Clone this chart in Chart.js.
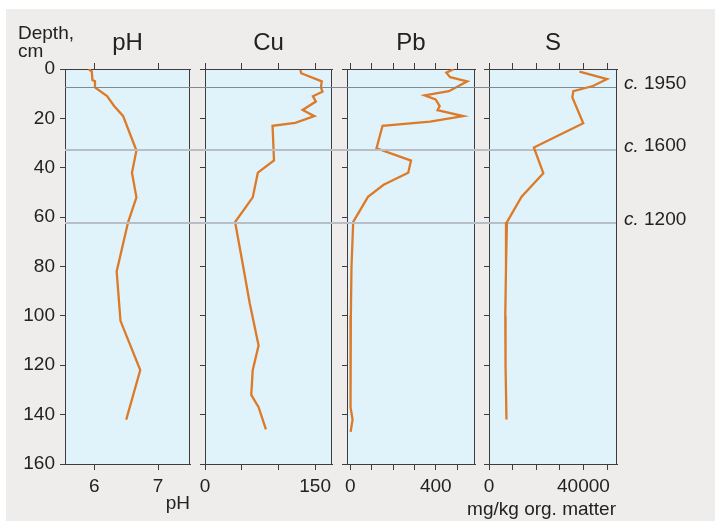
<!DOCTYPE html>
<html>
<head>
<meta charset="utf-8">
<title>Soil profile</title>
<script src="https://cdn.jsdelivr.net/npm/chart.js@4.4.1/dist/chart.umd.min.js"></script>
<style>
  html, body { margin: 0; padding: 0; background: #fff; }
  #wrap { position: relative; width: 715px; height: 521px; overflow: hidden; }
  #bg { position: absolute; left: 6px; top: 9px; right: 0; bottom: 0; background: #eeedeb; }
  canvas { position: absolute; left: 0; top: 0; }
</style>
</head>
<body>
<div id="wrap">
  <div id="bg"></div>
  <canvas id="chartPH" width="715" height="521"></canvas>
  <canvas id="chartCu" width="715" height="521"></canvas>
  <canvas id="chartPb" width="715" height="521"></canvas>
  <canvas id="chartS" width="715" height="521"></canvas>
</div>
<script>
( function () {
	"use strict";

	// depth axis (cm)
	var depthTicks = [0, 20, 40, 60, 80, 100, 120, 140, 160];

	// pH
	var phDepth = [0, 1, 4.5, 5, 7.5, 11, 15, 19, 33, 42, 52, 62, 82, 102, 122, 142];
	var phValue = [5.91, 5.96, 5.97, 6.01, 6.01, 6.20, 6.31, 6.45, 6.66, 6.59, 6.66, 6.53, 6.35, 6.41, 6.72, 6.50];
	var phTicks = [6, 7];
	var phLabels = [6, 7];

	// Cu, mg/kg org. matter
	var cuDepth = [0.4, 1.7, 5, 7.4, 9.2, 11, 13.2, 16.6, 19.1, 21.8, 23, 37, 42, 52, 62, 80, 95, 112, 122, 132, 137, 146];
	var cuValue = [130, 131, 159, 158, 160, 147, 151, 133, 149, 123, 92, 94, 72, 65, 41, 52, 61, 73, 65, 63, 73, 83];
	var cuTicks = [0, 50, 100, 150];
	var cuLabels = [0, 150];

	// Pb, mg/kg org. matter
	var pbDepth = [0.1, 1.5, 3.3, 5, 9, 10.7, 12.3, 15, 16.7, 19.1, 21.3, 23, 32.1, 37.1, 42, 46.9, 51.8, 61.9, 80, 100, 120, 137, 142, 147];
	var pbValue = [483, 449, 467, 547, 461, 348, 399, 418, 408, 528, 373, 151, 123, 284, 271, 156, 83, 14, 6, 3, 2, 1, 11, 2];
	var pbTicks = [0, 100, 200, 300, 400, 500];
	var pbLabels = [0, 400];

	// S, mg/kg org. matter
	var sDepth = [1.1, 4.1, 6.9, 9.0, 11.5, 22, 31.8, 42.2, 51.7, 62, 80, 100, 120, 142];
	var sValue = [38300, 50000, 44000, 35700, 35300, 39900, 19000, 23000, 13800, 7600, 7200, 6900, 7000, 7400];
	var sTicks = [0, 10000, 20000, 30000, 40000, 50000];
	var sLabels = [0, 40000];

	// dated horizons
	var eraDepth = [7.4, 32.7, 62.3];
	var eraYear = ["1950", "1600", "1200"];

	var ORANGE = "#dc7a28";
	var AXIS = "#3d3d3d";
	var TEXT = "#222";
	var PLOT_BG = "#e1f3fa";
	var FONT = '"Liberation Sans", Arial, Helvetica, sans-serif';

	Chart.defaults.font.family = FONT;
	Chart.defaults.font.size = 19;
	Chart.defaults.color = TEXT;

	var W = 715, H = 521, TOP = 69, BOTTOM = 464;

	var panels = [
		{ id: "chartPH", title: "pH", depth: phDepth, values: phValue, ticks: phTicks, labels: phLabels,
		  min: 5.54, max: 7.5, left: 65, right: 190, axisTitle: "pH" },
		{ id: "chartCu", title: "Cu", depth: cuDepth, values: cuValue, ticks: cuTicks, labels: cuLabels,
		  min: 0, max: 173, left: 205, right: 332 },
		{ id: "chartPb", title: "Pb", depth: pbDepth, values: pbValue, ticks: pbTicks, labels: pbLabels,
		  min: -15, max: 583, left: 347, right: 475 },
		{ id: "chartS", title: "S", depth: sDepth, values: sValue, ticks: sTicks, labels: sLabels,
		  min: 0, max: 54200, left: 489, right: 617, unitLabel: "mg/kg org. matter" }
	];

	function panelPlugin( p, index ) {
		var isFirst = index === 0;
		var isLast = index === panels.length - 1;
		return {
			id: "panel" + index,
			beforeDraw: function ( chart ) {
				var a = chart.chartArea, ctx = chart.ctx;
				ctx.save();
				ctx.fillStyle = PLOT_BG;
				ctx.fillRect( a.left, a.top, a.right - a.left, a.bottom - a.top );
				ctx.restore();
			},
			beforeDatasetsDraw: function ( chart ) {
				if ( !isLast ) return;
				var ctx = chart.ctx, y = chart.scales.y;
				ctx.save();
				eraDepth.forEach( function ( d, i ) {
					var py = Math.round( y.getPixelForValue( d ) );
					ctx.strokeStyle = i === 0 ? "#7f8b94" : "#b7bec5";
					ctx.lineWidth = i === 0 ? 1 : 2;
					ctx.beginPath();
					ctx.moveTo( panels[0].left, py + ( i === 0 ? 0.5 : 0 ) );
					ctx.lineTo( chart.chartArea.right, py + ( i === 0 ? 0.5 : 0 ) );
					ctx.stroke();
				} );
				ctx.restore();
			},
			afterDraw: function ( chart ) {
				var a = chart.chartArea, ctx = chart.ctx;
				ctx.save();
				// right frame line
				ctx.strokeStyle = AXIS;
				ctx.lineWidth = 1;
				ctx.beginPath();
				ctx.moveTo( Math.round( a.right ) - 0.5, a.top );
				ctx.lineTo( Math.round( a.right ) - 0.5, a.bottom );
				ctx.stroke();

				ctx.fillStyle = TEXT;
				ctx.textBaseline = "alphabetic";
				ctx.textAlign = "center";
				ctx.font = "24px " + FONT;
				ctx.fillText( p.title, ( a.left + a.right ) / 2, 50 );

				ctx.font = "19px " + FONT;
				if ( isFirst ) {
					ctx.textAlign = "left";
					ctx.fillText( "Depth,", a.left - 47, 38.5 );
					ctx.fillText( "cm", a.left - 47, 56.5 );
				}
				if ( p.unitLabel ) {
					ctx.textAlign = "right";
					ctx.textBaseline = "middle";
					ctx.fillText( p.unitLabel, a.right - 1, 510 );
				}
				if ( isLast ) {
					var y = chart.scales.y;
					ctx.textAlign = "left";
					ctx.textBaseline = "middle";
					eraDepth.forEach( function ( d, i ) {
						var py = y.getPixelForValue( d ) - 3.5;
						var x = a.right + 7;
						ctx.font = "italic 19px " + FONT;
						ctx.fillText( "c.", x, py );
						x += ctx.measureText( "c." ).width;
						ctx.font = "19px " + FONT;
						ctx.fillText( " " + eraYear[i], x, py );
					} );
				}
				ctx.restore();
			}
		};
	}

	function makeChart( p, index ) {
		var isFirst = index === 0;
		var yWidth = isFirst ? 58 : 10;
		var setTicks = function ( scale ) {
			scale.ticks = p.ticks.map( function ( v ) { return { value: v }; } );
		};
		var setDepthTicks = function ( scale ) {
			scale.ticks = depthTicks.map( function ( v ) { return { value: v }; } );
		};
		var points = p.depth.map( function ( d, i ) { return { x: p.values[i], y: d }; } );

		return new Chart( document.getElementById( p.id ), {
			type: "line",
			data: {
				datasets: [ {
					data: points,
					borderColor: ORANGE,
					borderWidth: 2.3,
					pointRadius: 0,
					fill: false,
					tension: 0
				} ]
			},
			options: {
				responsive: false,
				animation: false,
				events: [],
				layout: {
					autoPadding: false,
					padding: { left: p.left - yWidth, right: W - p.right, top: TOP - 6, bottom: 0 }
				},
				plugins: {
					legend: { display: false },
					tooltip: { enabled: false }
				},
				scales: {
					x: {
						type: "linear",
						position: "bottom",
						min: p.min,
						max: p.max,
						afterBuildTicks: setTicks,
						afterFit: function ( s ) { s.height = H - BOTTOM; },
						grid: { drawOnChartArea: false, tickLength: 6, color: AXIS },
						border: { color: AXIS },
						ticks: {
							padding: 5,
							maxRotation: 0,
							autoSkip: false,
							callback: function ( v ) { return p.labels.indexOf( v ) >= 0 ? String( v ) : ""; }
						},
						title: {
							display: !!p.axisTitle,
							text: p.axisTitle || "",
							align: "end",
							padding: { top: 0, bottom: 6 }
						}
					},
					xTop: {
						type: "linear",
						position: "top",
						min: p.min,
						max: p.max,
						afterBuildTicks: setTicks,
						afterFit: function ( s ) { s.height = 6; },
						grid: { drawOnChartArea: false, tickLength: 6, color: AXIS },
						border: { color: AXIS },
						ticks: { display: false }
					},
					y: {
						type: "linear",
						position: "left",
						reverse: true,
						min: 0,
						max: 160,
						afterBuildTicks: setDepthTicks,
						afterFit: function ( s ) { s.width = yWidth; },
						grid: { drawOnChartArea: false, tickLength: 5, color: AXIS },
						border: { color: AXIS },
						ticks: { display: isFirst, padding: 5, autoSkip: false }
					}
				}
			},
			plugins: [ panelPlugin( p, index ) ]
		} );
	}

	panels.forEach( makeChart );

} )();
</script>
</body>
</html>
